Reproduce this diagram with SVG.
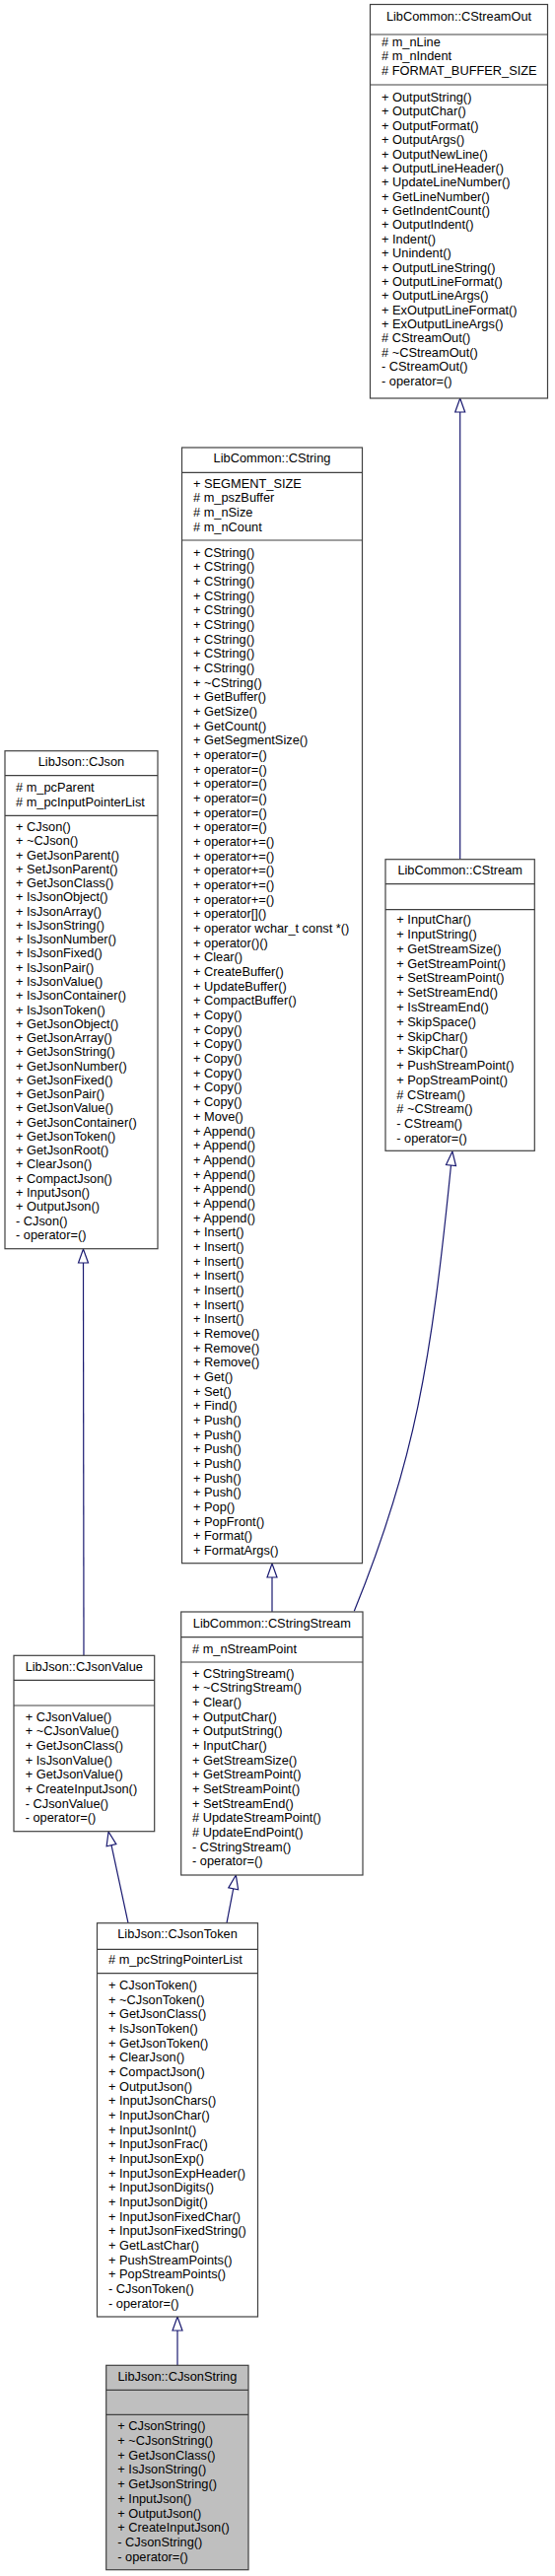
<svg xmlns="http://www.w3.org/2000/svg" width="563" height="2613" viewBox="0 0 563 2613">
<style>
text{font-family:"Liberation Sans",Arial,sans-serif;font-size:12.8px;fill:#000}
.t{text-anchor:middle}
.box{fill:#fff;stroke:#404040;stroke-width:1.2}
.cur{fill:#bfbfbf;stroke:#404040;stroke-width:1.2}
.sep{stroke:#404040;stroke-width:1.2}
.edge{fill:none;stroke:#191970;stroke-width:1.2}
</style>
<defs>
<marker id="inh" markerUnits="userSpaceOnUse" markerWidth="16" markerHeight="12" refX="0" refY="5" orient="auto" overflow="visible">
<path d="M0,0 L14,5 L0,10 Z" fill="#fff" stroke="#191970" stroke-width="1.2"/>
</marker>
</defs>
<g id="edges">
<path class="edge" d="M466.7,871.7 L466.7,418" marker-end="url(#inh)"/>
<path class="edge" d="M276,1635 L276,1600" marker-end="url(#inh)"/>
<path class="edge" d="M359.3,1634.3 C420.5,1484 437.5,1382 457.5,1182" marker-end="url(#inh)"/>
<path class="edge" d="M85,1679.3 L84.5,1281" marker-end="url(#inh)"/>
<path class="edge" d="M130,1950.7 L113,1871.7" marker-end="url(#inh)"/>
<path class="edge" d="M230,1950.7 L236.7,1915.8" marker-end="url(#inh)"/>
<path class="edge" d="M180,2399.3 L180,2364" marker-end="url(#inh)"/>
</g>
<g id="CStreamOut">
<rect class="box" x="375.5" y="4.5" width="180" height="399.5"/>
<line class="sep" x1="375.5" y1="35" x2="555.5" y2="35"/>
<line class="sep" x1="375.5" y1="86" x2="555.5" y2="86"/>
<text class="t" x="465.5" y="21">LibCommon::CStreamOut</text>
<text x="387" y="46.7"><tspan x="387"># m_nLine</tspan><tspan x="387" dy="14.5"># m_nIndent</tspan><tspan x="387" dy="14.5"># FORMAT_BUFFER_SIZE</tspan></text>
<text x="387" y="103"><tspan x="387">+ OutputString()</tspan><tspan x="387" dy="14.38">+ OutputChar()</tspan><tspan x="387" dy="14.38">+ OutputFormat()</tspan><tspan x="387" dy="14.38">+ OutputArgs()</tspan><tspan x="387" dy="14.38">+ OutputNewLine()</tspan><tspan x="387" dy="14.38">+ OutputLineHeader()</tspan><tspan x="387" dy="14.38">+ UpdateLineNumber()</tspan><tspan x="387" dy="14.38">+ GetLineNumber()</tspan><tspan x="387" dy="14.38">+ GetIndentCount()</tspan><tspan x="387" dy="14.38">+ OutputIndent()</tspan><tspan x="387" dy="14.38">+ Indent()</tspan><tspan x="387" dy="14.38">+ Unindent()</tspan><tspan x="387" dy="14.38">+ OutputLineString()</tspan><tspan x="387" dy="14.38">+ OutputLineFormat()</tspan><tspan x="387" dy="14.38">+ OutputLineArgs()</tspan><tspan x="387" dy="14.38">+ ExOutputLineFormat()</tspan><tspan x="387" dy="14.38">+ ExOutputLineArgs()</tspan><tspan x="387" dy="14.38"># CStreamOut()</tspan><tspan x="387" dy="14.38"># ~CStreamOut()</tspan><tspan x="387" dy="14.38">- CStreamOut()</tspan><tspan x="387" dy="14.38">- operator=()</tspan></text>
</g>
<g id="CString">
<rect class="box" x="184.5" y="454" width="183" height="1131.7"/>
<line class="sep" x1="184.5" y1="479.3" x2="367.5" y2="479.3"/>
<line class="sep" x1="184.5" y1="548" x2="367.5" y2="548"/>
<text class="t" x="276" y="469">LibCommon::CString</text>
<text x="196" y="494.7"><tspan x="196">+ SEGMENT_SIZE</tspan><tspan x="196" dy="14.67"># m_pszBuffer</tspan><tspan x="196" dy="14.67"># m_nSize</tspan><tspan x="196" dy="14.67"># m_nCount</tspan></text>
<text x="196" y="564.7"><tspan x="196">+ CString()</tspan><tspan x="196" dy="14.67">+ CString()</tspan><tspan x="196" dy="14.67">+ CString()</tspan><tspan x="196" dy="14.67">+ CString()</tspan><tspan x="196" dy="14.67">+ CString()</tspan><tspan x="196" dy="14.67">+ CString()</tspan><tspan x="196" dy="14.67">+ CString()</tspan><tspan x="196" dy="14.67">+ CString()</tspan><tspan x="196" dy="14.67">+ CString()</tspan><tspan x="196" dy="14.67">+ ~CString()</tspan><tspan x="196" dy="14.67">+ GetBuffer()</tspan><tspan x="196" dy="14.67">+ GetSize()</tspan><tspan x="196" dy="14.67">+ GetCount()</tspan><tspan x="196" dy="14.67">+ GetSegmentSize()</tspan><tspan x="196" dy="14.67">+ operator=()</tspan><tspan x="196" dy="14.67">+ operator=()</tspan><tspan x="196" dy="14.67">+ operator=()</tspan><tspan x="196" dy="14.67">+ operator=()</tspan><tspan x="196" dy="14.67">+ operator=()</tspan><tspan x="196" dy="14.67">+ operator=()</tspan><tspan x="196" dy="14.67">+ operator+=()</tspan><tspan x="196" dy="14.67">+ operator+=()</tspan><tspan x="196" dy="14.67">+ operator+=()</tspan><tspan x="196" dy="14.67">+ operator+=()</tspan><tspan x="196" dy="14.67">+ operator+=()</tspan><tspan x="196" dy="14.67">+ operator[]()</tspan><tspan x="196" dy="14.67">+ operator wchar_t const *()</tspan><tspan x="196" dy="14.67">+ operator()()</tspan><tspan x="196" dy="14.67">+ Clear()</tspan><tspan x="196" dy="14.67">+ CreateBuffer()</tspan><tspan x="196" dy="14.67">+ UpdateBuffer()</tspan><tspan x="196" dy="14.67">+ CompactBuffer()</tspan><tspan x="196" dy="14.67">+ Copy()</tspan><tspan x="196" dy="14.67">+ Copy()</tspan><tspan x="196" dy="14.67">+ Copy()</tspan><tspan x="196" dy="14.67">+ Copy()</tspan><tspan x="196" dy="14.67">+ Copy()</tspan><tspan x="196" dy="14.67">+ Copy()</tspan><tspan x="196" dy="14.67">+ Copy()</tspan><tspan x="196" dy="14.67">+ Move()</tspan><tspan x="196" dy="14.67">+ Append()</tspan><tspan x="196" dy="14.67">+ Append()</tspan><tspan x="196" dy="14.67">+ Append()</tspan><tspan x="196" dy="14.67">+ Append()</tspan><tspan x="196" dy="14.67">+ Append()</tspan><tspan x="196" dy="14.67">+ Append()</tspan><tspan x="196" dy="14.67">+ Append()</tspan><tspan x="196" dy="14.67">+ Insert()</tspan><tspan x="196" dy="14.67">+ Insert()</tspan><tspan x="196" dy="14.67">+ Insert()</tspan><tspan x="196" dy="14.67">+ Insert()</tspan><tspan x="196" dy="14.67">+ Insert()</tspan><tspan x="196" dy="14.67">+ Insert()</tspan><tspan x="196" dy="14.67">+ Insert()</tspan><tspan x="196" dy="14.67">+ Remove()</tspan><tspan x="196" dy="14.67">+ Remove()</tspan><tspan x="196" dy="14.67">+ Remove()</tspan><tspan x="196" dy="14.67">+ Get()</tspan><tspan x="196" dy="14.67">+ Set()</tspan><tspan x="196" dy="14.67">+ Find()</tspan><tspan x="196" dy="14.67">+ Push()</tspan><tspan x="196" dy="14.67">+ Push()</tspan><tspan x="196" dy="14.67">+ Push()</tspan><tspan x="196" dy="14.67">+ Push()</tspan><tspan x="196" dy="14.67">+ Push()</tspan><tspan x="196" dy="14.67">+ Push()</tspan><tspan x="196" dy="14.67">+ Pop()</tspan><tspan x="196" dy="14.67">+ PopFront()</tspan><tspan x="196" dy="14.67">+ Format()</tspan><tspan x="196" dy="14.67">+ FormatArgs()</tspan></text>
</g>
<g id="CJson">
<rect class="box" x="5" y="761.7" width="155" height="505"/>
<line class="sep" x1="5" y1="786.7" x2="160" y2="786.7"/>
<line class="sep" x1="5" y1="827.3" x2="160" y2="827.3"/>
<text class="t" x="82.5" y="777.3">LibJson::CJson</text>
<text x="16" y="803"><tspan x="16"># m_pcParent</tspan><tspan x="16" dy="15"># m_pcInputPointerList</tspan></text>
<text x="16" y="843"><tspan x="16">+ CJson()</tspan><tspan x="16" dy="14.27">+ ~CJson()</tspan><tspan x="16" dy="14.27">+ GetJsonParent()</tspan><tspan x="16" dy="14.27">+ SetJsonParent()</tspan><tspan x="16" dy="14.27">+ GetJsonClass()</tspan><tspan x="16" dy="14.27">+ IsJsonObject()</tspan><tspan x="16" dy="14.27">+ IsJsonArray()</tspan><tspan x="16" dy="14.27">+ IsJsonString()</tspan><tspan x="16" dy="14.27">+ IsJsonNumber()</tspan><tspan x="16" dy="14.27">+ IsJsonFixed()</tspan><tspan x="16" dy="14.27">+ IsJsonPair()</tspan><tspan x="16" dy="14.27">+ IsJsonValue()</tspan><tspan x="16" dy="14.27">+ IsJsonContainer()</tspan><tspan x="16" dy="14.27">+ IsJsonToken()</tspan><tspan x="16" dy="14.27">+ GetJsonObject()</tspan><tspan x="16" dy="14.27">+ GetJsonArray()</tspan><tspan x="16" dy="14.27">+ GetJsonString()</tspan><tspan x="16" dy="14.27">+ GetJsonNumber()</tspan><tspan x="16" dy="14.27">+ GetJsonFixed()</tspan><tspan x="16" dy="14.27">+ GetJsonPair()</tspan><tspan x="16" dy="14.27">+ GetJsonValue()</tspan><tspan x="16" dy="14.27">+ GetJsonContainer()</tspan><tspan x="16" dy="14.27">+ GetJsonToken()</tspan><tspan x="16" dy="14.27">+ GetJsonRoot()</tspan><tspan x="16" dy="14.27">+ ClearJson()</tspan><tspan x="16" dy="14.27">+ CompactJson()</tspan><tspan x="16" dy="14.27">+ InputJson()</tspan><tspan x="16" dy="14.27">+ OutputJson()</tspan><tspan x="16" dy="14.27">- CJson()</tspan><tspan x="16" dy="14.27">- operator=()</tspan></text>
</g>
<g id="CStream">
<rect class="box" x="391" y="871.7" width="151.3" height="295.6"/>
<line class="sep" x1="391" y1="896.7" x2="542.3" y2="896.7"/>
<line class="sep" x1="391" y1="922.7" x2="542.3" y2="922.7"/>
<text class="t" x="466.7" y="887.3">LibCommon::CStream</text>
<text x="402.3" y="937.3"><tspan x="402.3">+ InputChar()</tspan><tspan x="402.3" dy="14.78">+ InputString()</tspan><tspan x="402.3" dy="14.78">+ GetStreamSize()</tspan><tspan x="402.3" dy="14.78">+ GetStreamPoint()</tspan><tspan x="402.3" dy="14.78">+ SetStreamPoint()</tspan><tspan x="402.3" dy="14.78">+ SetStreamEnd()</tspan><tspan x="402.3" dy="14.78">+ IsStreamEnd()</tspan><tspan x="402.3" dy="14.78">+ SkipSpace()</tspan><tspan x="402.3" dy="14.78">+ SkipChar()</tspan><tspan x="402.3" dy="14.78">+ SkipChar()</tspan><tspan x="402.3" dy="14.78">+ PushStreamPoint()</tspan><tspan x="402.3" dy="14.78">+ PopStreamPoint()</tspan><tspan x="402.3" dy="14.78"># CStream()</tspan><tspan x="402.3" dy="14.78"># ~CStream()</tspan><tspan x="402.3" dy="14.78">- CStream()</tspan><tspan x="402.3" dy="14.78">- operator=()</tspan></text>
</g>
<g id="CStringStream">
<rect class="box" x="183.7" y="1635" width="184.3" height="267"/>
<line class="sep" x1="183.7" y1="1660.7" x2="368" y2="1660.7"/>
<line class="sep" x1="183.7" y1="1686" x2="368" y2="1686"/>
<text class="t" x="275.8" y="1650.7">LibCommon::CStringStream</text>
<text x="195" y="1676.7"># m_nStreamPoint</text>
<text x="195" y="1701.7"><tspan x="195">+ CStringStream()</tspan><tspan x="195" dy="14.67">+ ~CStringStream()</tspan><tspan x="195" dy="14.67">+ Clear()</tspan><tspan x="195" dy="14.67">+ OutputChar()</tspan><tspan x="195" dy="14.67">+ OutputString()</tspan><tspan x="195" dy="14.67">+ InputChar()</tspan><tspan x="195" dy="14.67">+ GetStreamSize()</tspan><tspan x="195" dy="14.67">+ GetStreamPoint()</tspan><tspan x="195" dy="14.67">+ SetStreamPoint()</tspan><tspan x="195" dy="14.67">+ SetStreamEnd()</tspan><tspan x="195" dy="14.67"># UpdateStreamPoint()</tspan><tspan x="195" dy="14.67"># UpdateEndPoint()</tspan><tspan x="195" dy="14.67">- CStringStream()</tspan><tspan x="195" dy="14.67">- operator=()</tspan></text>
</g>
<g id="CJsonValue">
<rect class="box" x="14" y="1679.3" width="142.7" height="178.4"/>
<line class="sep" x1="14" y1="1704.3" x2="156.7" y2="1704.3"/>
<line class="sep" x1="14" y1="1730" x2="156.7" y2="1730"/>
<text class="t" x="85.3" y="1694.7">LibJson::CJsonValue</text>
<text x="25.7" y="1745.7"><tspan x="25.7">+ CJsonValue()</tspan><tspan x="25.7" dy="14.67">+ ~CJsonValue()</tspan><tspan x="25.7" dy="14.67">+ GetJsonClass()</tspan><tspan x="25.7" dy="14.67">+ IsJsonValue()</tspan><tspan x="25.7" dy="14.67">+ GetJsonValue()</tspan><tspan x="25.7" dy="14.67">+ CreateInputJson()</tspan><tspan x="25.7" dy="14.67">- CJsonValue()</tspan><tspan x="25.7" dy="14.67">- operator=()</tspan></text>
</g>
<g id="CJsonToken">
<rect class="box" x="98.5" y="1950.7" width="163" height="399.3"/>
<line class="sep" x1="98.5" y1="1977.3" x2="261.5" y2="1977.3"/>
<line class="sep" x1="98.5" y1="2001.7" x2="261.5" y2="2001.7"/>
<text class="t" x="180" y="1966.3">LibJson::CJsonToken</text>
<text x="110" y="1992.3"># m_pcStringPointerList</text>
<text x="110" y="2018"><tspan x="110">+ CJsonToken()</tspan><tspan x="110" dy="14.67">+ ~CJsonToken()</tspan><tspan x="110" dy="14.67">+ GetJsonClass()</tspan><tspan x="110" dy="14.67">+ IsJsonToken()</tspan><tspan x="110" dy="14.67">+ GetJsonToken()</tspan><tspan x="110" dy="14.67">+ ClearJson()</tspan><tspan x="110" dy="14.67">+ CompactJson()</tspan><tspan x="110" dy="14.67">+ OutputJson()</tspan><tspan x="110" dy="14.67">+ InputJsonChars()</tspan><tspan x="110" dy="14.67">+ InputJsonChar()</tspan><tspan x="110" dy="14.67">+ InputJsonInt()</tspan><tspan x="110" dy="14.67">+ InputJsonFrac()</tspan><tspan x="110" dy="14.67">+ InputJsonExp()</tspan><tspan x="110" dy="14.67">+ InputJsonExpHeader()</tspan><tspan x="110" dy="14.67">+ InputJsonDigits()</tspan><tspan x="110" dy="14.67">+ InputJsonDigit()</tspan><tspan x="110" dy="14.67">+ InputJsonFixedChar()</tspan><tspan x="110" dy="14.67">+ InputJsonFixedString()</tspan><tspan x="110" dy="14.67">+ GetLastChar()</tspan><tspan x="110" dy="14.67">+ PushStreamPoints()</tspan><tspan x="110" dy="14.67">+ PopStreamPoints()</tspan><tspan x="110" dy="14.67">- CJsonToken()</tspan><tspan x="110" dy="14.67">- operator=()</tspan></text>
</g>
<g id="CJsonString">
<rect class="cur" x="107.7" y="2399.3" width="144.3" height="207.4"/>
<line class="sep" x1="107.7" y1="2424.3" x2="252" y2="2424.3"/>
<line class="sep" x1="107.7" y1="2449.3" x2="252" y2="2449.3"/>
<text class="t" x="179.9" y="2415">LibJson::CJsonString</text>
<text x="119.3" y="2465"><tspan x="119.3">+ CJsonString()</tspan><tspan x="119.3" dy="14.78">+ ~CJsonString()</tspan><tspan x="119.3" dy="14.78">+ GetJsonClass()</tspan><tspan x="119.3" dy="14.78">+ IsJsonString()</tspan><tspan x="119.3" dy="14.78">+ GetJsonString()</tspan><tspan x="119.3" dy="14.78">+ InputJson()</tspan><tspan x="119.3" dy="14.78">+ OutputJson()</tspan><tspan x="119.3" dy="14.78">+ CreateInputJson()</tspan><tspan x="119.3" dy="14.78">- CJsonString()</tspan><tspan x="119.3" dy="14.78">- operator=()</tspan></text>
</g>
</svg>
